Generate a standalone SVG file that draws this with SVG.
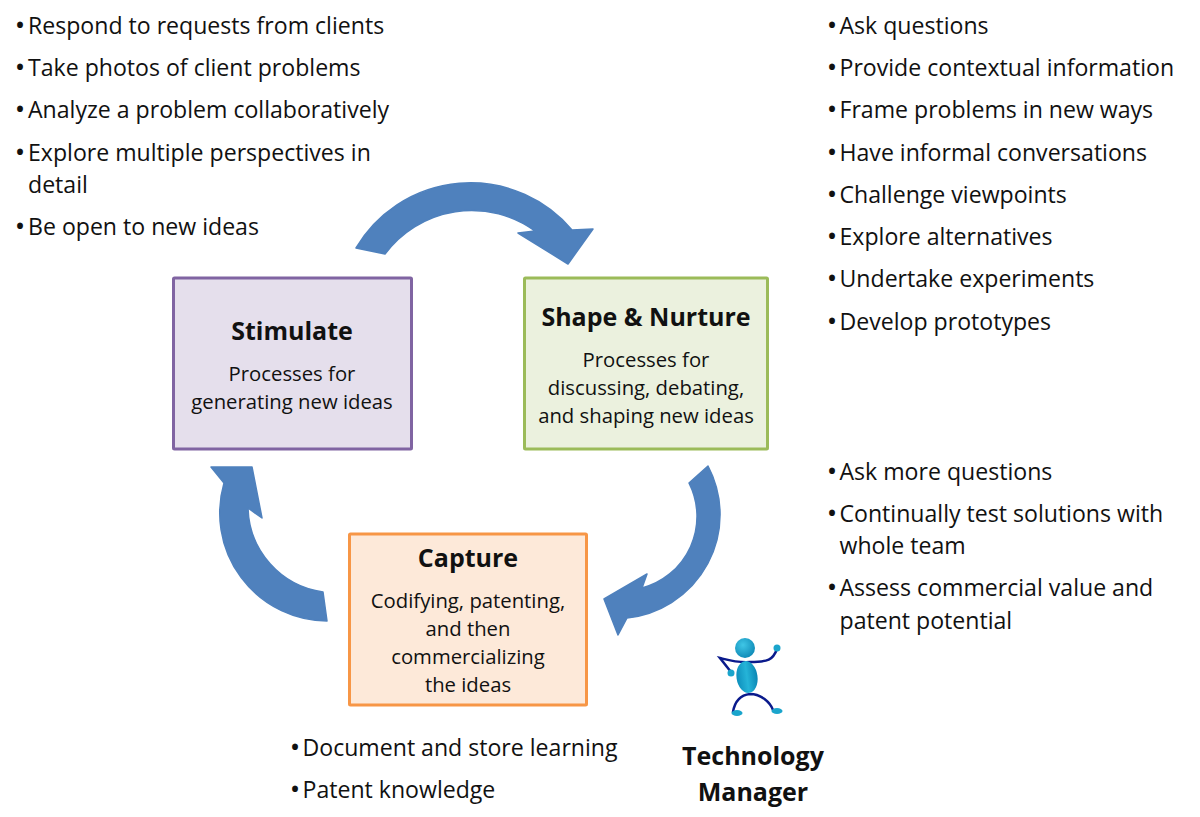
<svg xmlns="http://www.w3.org/2000/svg" width="1200" height="817" viewBox="0 0 1200 817">
<defs>
<radialGradient id="ball" cx="0.4" cy="0.35" r="0.75"><stop offset="0" stop-color="#3fc6e6"/><stop offset="1" stop-color="#0a84b2"/></radialGradient>
<linearGradient id="bodyg" x1="0" x2="1" y1="0" y2="0"><stop offset="0" stop-color="#0e8fbc"/><stop offset="0.5" stop-color="#25b4d8"/><stop offset="1" stop-color="#0a86b4"/></linearGradient>
</defs>
<style>
text{font-family:"Open Sans","Noto Sans","Liberation Sans",sans-serif;fill:#111}
.b{font-size:23.1px}
.d{font-size:28px;text-anchor:middle}
.h{font-size:25px;font-weight:700;text-anchor:middle}
.s{font-size:20.3px;text-anchor:middle}
.t{font-size:25px;font-weight:700;text-anchor:middle}
.arrow{fill:#4f81bd;stroke:#4f81bd;stroke-width:1.5;stroke-linejoin:round}
.box{stroke-width:3}
.limb{fill:none;stroke:#0a1a8c;stroke-width:2.5;stroke-linecap:round;stroke-linejoin:miter}
.hand{fill:#1aa5cc}
</style>
<rect width="1200" height="817" fill="#fff"/>
<g id="connectors">
<path class="arrow" d="M356 248A133 133 0 0 1 572 230L593 229L568 264L518 233L535 231A108 108 0 0 0 385 254Z"/>
<path class="arrow" d="M708 466A104 104 0 0 1 627 618L618 635L604 599L647 574L642 588A74 74 0 0 0 689 483Z"/>
<path class="arrow" d="M327 621A108 108 0 0 1 224 483L211 467L252 467L262 518L248 508A87 87 0 0 0 323 592Z"/>
</g>
<g id="stimulate">
<rect class="box" x="173.500" y="278" width="238" height="171" rx="1" fill="#e5dfec" stroke="#8064a2"/>
<text class="h" x="292" y="340">Stimulate</text>
<text class="s" x="292" y="381">Processes for</text>
<text class="s" x="292" y="409">generating new ideas</text>
</g>
<g id="shape-nurture">
<rect class="box" x="524.500" y="278" width="243" height="171" rx="1" fill="#ebf1de" stroke="#9bbb59"/>
<text class="h" x="646" y="326">Shape &amp; Nurture</text>
<text class="s" x="646" y="367">Processes for</text>
<text class="s" x="646" y="395">discussing, debating,</text>
<text class="s" x="646" y="423">and shaping new ideas</text>
</g>
<g id="capture">
<rect class="box" x="349.500" y="534" width="237" height="171" rx="1" fill="#fde9d9" stroke="#f79646"/>
<text class="h" x="468" y="567">Capture</text>
<text class="s" x="468" y="608">Codifying, patenting,</text>
<text class="s" x="468" y="636">and then</text>
<text class="s" x="468" y="664">commercializing</text>
<text class="s" x="468" y="692">the ideas</text>
</g>
<g id="list-stimulate">
<text class="d" x="20" y="35">•</text><text class="b" x="28" y="33.700">Respond to requests from clients</text>
<text class="d" x="20" y="77">•</text><text class="b" x="28" y="75.700">Take photos of client problems</text>
<text class="d" x="20" y="119">•</text><text class="b" x="28" y="117.700">Analyze a problem collaboratively</text>
<text class="d" x="20" y="162">•</text><text class="b" x="28" y="160.700">Explore multiple perspectives in</text>
<text class="b" x="28" y="192.700">detail</text>
<text class="d" x="20" y="236">•</text><text class="b" x="28" y="234.700">Be open to new ideas</text>
</g>
<g id="list-shape">
<text class="d" x="832" y="35">•</text><text class="b" x="839.500" y="33.700">Ask questions</text>
<text class="d" x="832" y="77">•</text><text class="b" x="839.500" y="75.700">Provide contextual information</text>
<text class="d" x="832" y="119">•</text><text class="b" x="839.500" y="117.700">Frame problems in new ways</text>
<text class="d" x="832" y="162">•</text><text class="b" x="839.500" y="160.700">Have informal conversations</text>
<text class="d" x="832" y="204">•</text><text class="b" x="839.500" y="202.700">Challenge viewpoints</text>
<text class="d" x="832" y="246">•</text><text class="b" x="839.500" y="244.700">Explore alternatives</text>
<text class="d" x="832" y="288">•</text><text class="b" x="839.500" y="286.700">Undertake experiments</text>
<text class="d" x="832" y="331">•</text><text class="b" x="839.500" y="329.700">Develop prototypes</text>
</g>
<g id="list-capture">
<text class="d" x="832" y="481">•</text><text class="b" x="839.500" y="479.700">Ask more questions</text>
<text class="d" x="832" y="523">•</text><text class="b" x="839.500" y="521.700">Continually test solutions with</text>
<text class="b" x="839.500" y="553.700">whole team</text>
<text class="d" x="832" y="597">•</text><text class="b" x="839.500" y="595.700">Assess commercial value and</text>
<text class="b" x="839.500" y="628.700">patent potential</text>
</g>
<g id="list-store">
<text class="d" x="295" y="757">•</text><text class="b" x="302.500" y="755.700">Document and store learning</text>
<text class="d" x="295" y="799">•</text><text class="b" x="302.500" y="797.700">Patent knowledge</text>
</g>
<g id="technology-manager">
<path class="limb" d="M777 649C773 660 768 662 750 662C738 663 728 660 720 658L731 672"/>
<path class="limb" d="M733 712C735 700 741 695 750 694C761 694 770 702 773 710"/>
<circle cx="745" cy="648" r="10" fill="url(#ball)"/>
<circle cx="777" cy="648" r="3.500" class="hand"/>
<circle cx="731" cy="673" r="3.500" class="hand"/>
<ellipse cx="747" cy="677" rx="10.500" ry="16" transform="rotate(-8 747 677)" fill="url(#bodyg)"/>
<ellipse cx="737" cy="713" rx="5.500" ry="3" class="hand"/>
<ellipse cx="777" cy="711" rx="5.500" ry="3" class="hand"/>
<text class="t" x="753" y="765">Technology</text>
<text class="t" x="753" y="801">Manager</text>
</g>
</svg>
